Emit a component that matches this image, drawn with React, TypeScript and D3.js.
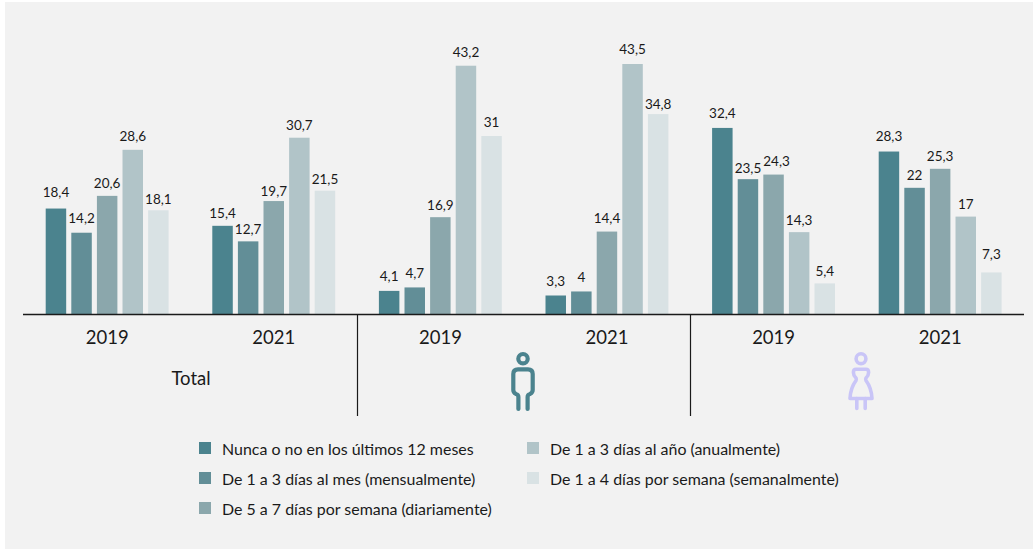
import React from "react";
import * as d3 from "d3";

const groups = ["T2019", "T2021", "H2019", "H2021", "M2019", "M2021"];
const groupYears = ["2019", "2021", "2019", "2021", "2019", "2021"];
const seriesNames = [
  "Nunca o no en los últimos 12 meses",
  "De 1 a 3 días al mes (mensualmente)",
  "De 5 a 7 días por semana (diariamente)",
  "De 1 a 3 días al año (anualmente)",
  "De 1 a 4 días por semana (semanalmente)",
];
const colors = ["#4b838e", "#628e97", "#8ba7ac", "#b1c4c8", "#d9e2e4"];
const nunca = [18.4, 15.4, 4.1, 3.3, 32.4, 28.3];
const mensual = [14.2, 12.7, 4.7, 4, 23.5, 22];
const diario = [20.6, 19.7, 16.9, 14.4, 24.3, 25.3];
const anual = [28.6, 30.7, 43.2, 43.5, 14.3, 17];
const semanal = [18.1, 21.5, 31, 34.8, 5.4, 7.3];
const seriesValues = [nunca, mensual, diario, anual, semanal];

// Hand-placed label gaps (bar top to label centre) seen in the reference
const labelGaps = [
  [16, 12, 14, 14, 14, 15],
  [14, 12, 14, 14, 11, 12],
  [12, 10, 12, 13, 13, 12],
  [13, 12, 13, 15, 12, 12],
  [11, 11, 13, 10, 12, 18],
];

const W = 1035;
const H = 550;
const FONT = "Lato, 'Open Sans', sans-serif";
const TEXT = "#1a1a1a";

const x0 = d3.scaleBand<string>().domain(groups).range([23.9, 1023.5]);
const x1 = d3
  .scaleBand<number>()
  .domain(d3.range(5))
  .range([21.8, 144.7])
  .paddingInner(0.2)
  .paddingOuter(0);
const y = d3.scaleLinear().domain([0, 43.5]).range([314.5, 64]);
const fmt = (v: number) => String(v).replace(".", ",");

const legendPos = [
  { x: 199, y: 449 },
  { x: 199, y: 479 },
  { x: 199, y: 509 },
  { x: 527, y: 449 },
  { x: 527, y: 479 },
];

function Man({ cx, top }: { cx: number; top: number }) {
  return (
    <g transform={`translate(${cx},${top})`} fill="none" stroke="#4b838e" strokeWidth={4.2} strokeLinecap="round" strokeLinejoin="round">
      <circle cx={0} cy={7.7} r={4.7} />
      <path d="M-4.6 58V46Q-4.6 43.5 -7 43Q-9.7 41.5 -9.7 39V23Q-9.7 18.3 -5 18.3H5Q9.7 18.3 9.7 23V39Q9.7 41.5 7 43Q4.6 43.5 4.6 46V58" />
    </g>
  );
}

function Woman({ cx, top }: { cx: number; top: number }) {
  return (
    <g transform={`translate(${cx},${top})`} fill="none" stroke="#c9c5f7" strokeWidth={3.6} strokeLinecap="round" strokeLinejoin="round">
      <circle cx={0} cy={7.7} r={4.9} />
      <path d="M-4.2 47.5V57.5M4.2 47.5V57.5" />
      <path d="M-5 18.3H5Q7.6 18.3 7.6 21.5Q7.6 24.5 5 27Q4.4 28 5 29.5Q10.5 37 11 47.5H-11Q-10.5 37 -5 29.5Q-4.4 28 -5 27Q-7.6 24.5 -7.6 21.5Q-7.6 18.3 -5 18.3Z" />
    </g>
  );
}

export default function App() {
  return (
    <svg width={W} height={H} style={{ position: "absolute", left: 0, top: 0, display: "block" }} fontFamily={FONT}>
      <rect x={0} y={0} width={W} height={H} fill="#ffffff" />
      <rect x={5} y={2} width={1028} height={547} fill="#f2f2f2" />

      {seriesValues.map((vals, s) => (
        <g key={s}>
          {vals.map((v, g) => {
            const bx = x0(groups[g])! + x1(s)!;
            const nudge = v === 24.3 ? 3 : 0;
            return (
              <g key={g}>
                <rect x={bx} y={y(v)} width={x1.bandwidth()} height={y(0) - y(v)} fill={colors[s]} />
                <text x={bx + x1.bandwidth() / 2 + nudge} y={y(v) - labelGaps[s][g] + 4.5} textAnchor="middle" fontSize={13.5} fill={TEXT}>
                  {fmt(v)}
                </text>
              </g>
            );
          })}
        </g>
      ))}

      <line x1={23} x2={1024} y1={314.5} y2={314.5} stroke="#1a1a1a" strokeWidth={1.3} />
      <line x1={357.5} x2={357.5} y1={315} y2={416} stroke="#1a1a1a" strokeWidth={1.2} />
      <line x1={690.5} x2={690.5} y1={315} y2={416} stroke="#1a1a1a" strokeWidth={1.2} />

      {groups.map((g, i) => (
        <text key={g} x={x0(g)! + x0.bandwidth() / 2} y={344} textAnchor="middle" fontSize={18.5} fill={TEXT}>
          {groupYears[i]}
        </text>
      ))}
      <text x={191} y={385} textAnchor="middle" fontSize={18.5} fill={TEXT}>
        Total
      </text>
      <Man cx={523} top={351} />
      <Woman cx={861} top={351} />

      {seriesNames.map((n, i) => (
        <g key={n}>
          <rect x={legendPos[i].x} y={legendPos[i].y - 7} width={12} height={12} fill={colors[i]} />
          <text x={legendPos[i].x + 23} y={legendPos[i].y + 6} fontSize={15.95} fill={TEXT}>
            {n}
          </text>
        </g>
      ))}
    </svg>
  );
}
